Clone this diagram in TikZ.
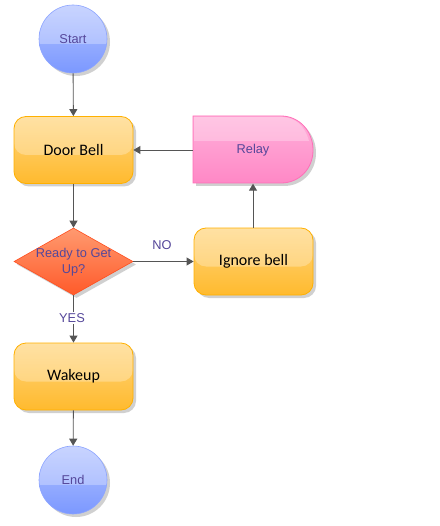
\documentclass[tikz,border=0pt]{standalone}
\usepackage{fontspec}
\setmainfont{Liberation Sans}
\newfontfamily\calfont{Carlito}
\usetikzlibrary{shapes.geometric,shadows,arrows.meta,calc}
\definecolor{txtpurple}{HTML}{55479A}
\definecolor{blueA}{HTML}{B4C4FF}
\definecolor{blueB}{HTML}{7B98FF}
\definecolor{blueE}{HTML}{8CA4FF}
\definecolor{orA}{HTML}{FFD680}
\definecolor{orB}{HTML}{FFBA2E}
\definecolor{orE}{HTML}{FFB000}
\definecolor{pkA}{HTML}{FFB0DA}
\definecolor{pkB}{HTML}{FF88C6}
\definecolor{pkE}{HTML}{FF6EB8}
\definecolor{rdA}{HTML}{FF9A70}
\definecolor{rdB}{HTML}{FF5A2A}
\definecolor{rdE}{HTML}{FF4E1E}
\definecolor{linegray}{HTML}{555555}
\tikzset{
  x=1pt, y=-1pt,
  shad/.style={drop shadow={shadow xshift=3pt,shadow yshift=-3pt,opacity=.3,fill=black!60}},
  gloss/.style={path picture={\fill[white,opacity=.28] ($(path picture bounding box.north west)+(0,0)$) rectangle ($(path picture bounding box.east)+(0,-5pt)$);}},
  term/.style={circle, minimum size=68pt, inner sep=0pt, draw=blueE, line width=.6pt,
    top color=blueA, bottom color=blueB, shad, gloss,
    text=txtpurple, font=\fontsize{12.8}{14}\selectfont},
  proc/.style={rectangle, rounded corners=12pt, minimum width=119pt, minimum height=67pt,
    inner sep=0pt, draw=orE, line width=.8pt, top color=orA, bottom color=orB, shad, gloss,
    text=black, font=\calfont\fontsize{16}{18}\selectfont},
  dia/.style={diamond, aspect=1.776, minimum width=119pt, minimum height=67pt, inner sep=0pt,
    draw=rdE, line width=.6pt, top color=rdA, bottom color=rdB, shad},
  diatxt/.style={align=center, text=txtpurple, inner sep=0pt, font=\fontsize{12.8}{16}\selectfont},
  lbl/.style={text=txtpurple, inner sep=1pt, font=\fontsize{12.8}{14}\selectfont},
  conn/.style={draw=linegray, line width=.9pt, -{Triangle[length=7pt,width=8pt]}},
}
\begin{document}
\begin{tikzpicture}
\useasboundingbox (0,0) rectangle (439,526);
\fill[white] (0,0) rectangle (439,526);

\node[term] (start) at (73,39) {Start};
\node[proc] (bell) at (73.5,150) {Door Bell};
% relay shape
\path[draw=pkE, line width=.8pt, top color=pkA, bottom color=pkB, shad]
  (193,116) -- (281,116) .. controls (299,116) and (313,131) .. (313,150)
  .. controls (313,169) and (299,183) .. (281,183) -- (193,183) -- cycle;
\fill[white,opacity=.28] (194,117) -- (281,117) .. controls (295,117) and (305,126) .. (309,141) -- (194,141) -- cycle;
\node[minimum width=120pt, minimum height=67pt, inner sep=0pt, text=txtpurple,
  font=\fontsize{12.8}{14}\selectfont] (relay) at (253,150) {Relay};
\node[dia] (dec) at (73.5,261.5) {};
\node[diatxt] (dectxt) at (73.5,262) {Ready to Get\\Up?};
\node[proc] (ignore) at (253.5,261.5) {Ignore bell};
\node[proc] (wake) at (73.5,376.5) {Wakeup};
\node[term] (end) at (73,480) {End};

\draw[conn] (start) -- (bell);
\draw[conn] (bell) -- (dec);
\draw[conn] (dec.east) -- (ignore.west);
\node[lbl] (no) at (162,245) {NO};
\draw[conn] (ignore.north -| relay.south) -- (relay.south);
\draw[conn] (relay.west) -- (bell.east);
\draw[conn] (dec.south) -- (wake.north);
\node[lbl, fill=white] (yes) at (72,318) {YES};
\draw[conn] (wake) -- (end);
\end{tikzpicture}
\end{document}
